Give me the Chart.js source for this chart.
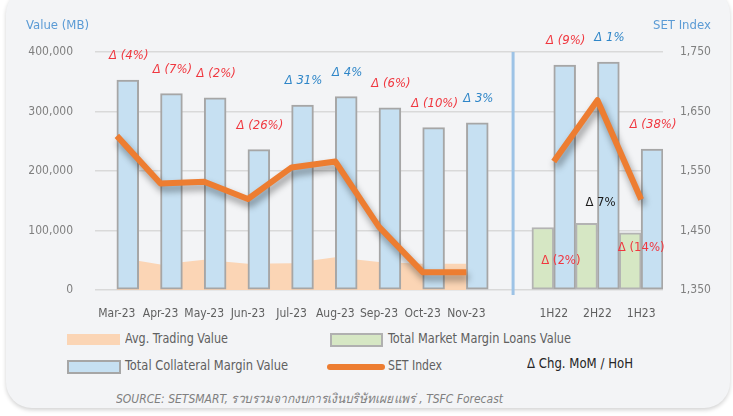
<!DOCTYPE html>
<html>
<head>
<meta charset="utf-8">
<script src="https://cdn.jsdelivr.net/npm/chart.js@4.4.0/dist/chart.umd.min.js"></script>
<style>
  html, body { margin: 0; padding: 0; background: #ffffff; }
  body { width: 733px; height: 416px; position: relative; overflow: hidden; }
  #panel {
    position: absolute; left: 6px; top: -12px; width: 724px; height: 420px;
    background: #f3f4f6; border-radius: 26px;
    box-shadow: 0 2px 4px rgba(0, 0, 0, 0.18);
  }
  #myChart { position: absolute; left: 0; top: 0; }
  .txt { position: absolute; white-space: nowrap; line-height: 1; transform-origin: left center; }
  .axtitle { font-family: 'DejaVu Sans Condensed', 'DejaVu Sans', sans-serif; font-size: 13px; color: #5b9bd5; }
  .leg { font-family: 'DejaVu Sans Condensed', 'DejaVu Sans', sans-serif; font-size: 14px; color: #606060; }
  .sw { position: absolute; box-sizing: border-box; }
</style>
</head>
<body>
<div id="panel"></div>
<canvas id="myChart" width="733" height="330"></canvas>

<div class="txt axtitle" style="left:26px; top:18px;">Value (MB)</div>
<div class="txt axtitle" style="left:653px; top:18px;">SET Index</div>

<div class="sw" style="left:67px; top:334px; width:53px; height:11px; background:#fbd5b5;"></div>
<div class="txt leg" data-w="103" style="left:125px; top:331px;">Avg. Trading Value</div>
<div class="sw" style="left:330px; top:333px; width:53px; height:14px; background:#d6e7c4; border:2px solid #b0b0b0;"></div>
<div class="txt leg" data-w="183" style="left:388px; top:331px;">Total Market Margin Loans Value</div>

<div class="sw" style="left:67px; top:360px; width:54px; height:14px; background:#c6e0f2; border:2px solid #a6a6a6;"></div>
<div class="txt leg" data-w="163" style="left:125px; top:358px;">Total Collateral Margin Value</div>
<div class="sw" style="left:327px; top:364px; width:58px; height:6px; background:#ed7d31; border-radius:3px;"></div>
<div class="txt leg" data-w="54" style="left:388px; top:358px;">SET Index</div>
<div class="txt leg" data-w="106" style="left:527px; top:356px; color:#262626;">&Delta; Chg. MoM / HoH</div>

<div class="txt leg" data-w="387" style="left:116px; top:392px; font-size:13px; font-style:italic; color:#7f7f7f;">SOURCE: SETSMART, รวบรวมจากงบการเงินบริษัทเผยแพร่ , TSFC Forecast</div>

<script>
'use strict';

// categories (index 9 is the blank gap between monthly and half-year data)
let periods = ['Mar-23', 'Apr-23', 'May-23', 'Jun-23', 'Jul-23', 'Aug-23', 'Sep-23', 'Oct-23', 'Nov-23', '', '1H22', '2H22', '1H23'];

// values in MB
let avgTradingValue = [55000, 43000, 51000, 44000, 45000, 55000, 47000, 44000, 44000, null, null, null, null];
let marginLoansValue = [null, null, null, null, null, null, null, null, null, null, 105000, 112000, 96000];
let collateralValue = [353000, 330000, 323000, 236000, 311000, 325000, 306000, 273000, 281000, null, 378000, 383000, 237000];

// SET index level
let setIndex = [1609, 1529, 1532, 1503, 1556, 1566, 1456, 1380, 1380, null, 1566, 1669, 1502];

// % change MoM / HoH
let collateralChg = [-4, -7, -2, -26, 31, 4, -6, -10, 3, null, -9, 1, -38];
let loansChg = [null, null, null, null, null, null, null, null, null, null, -2, 7, -14];

// axis ticks
let leftTicks = [0, 100000, 200000, 300000, 400000];
let rightTicks = [1350, 1450, 1550, 1650, 1750];

const tickFont = { family: "'DejaVu Sans Condensed', 'DejaVu Sans', sans-serif", size: 12 };
const lblFont = "'DejaVu Sans Condensed', 'DejaVu Sans', sans-serif";

// squeeze legend texts to the narrow widths of the original font
document.querySelectorAll('[data-w]').forEach(el => {
  let w = el.getBoundingClientRect().width;
  el.style.transform = 'scaleX(' + (Number(el.dataset.w) / w) + ')';
});

function fmtChg(v) {
  return v < 0 ? '\u0394 (' + Math.abs(v) + '%)' : '\u0394 ' + v + '%';
}

// blue separator between monthly and half-year part
const separator = {
  id: 'separator',
  beforeDatasetsDraw(chart) {
    let ctx = chart.ctx;
    let x = chart.scales.x.getPixelForValue(9) + 3;
    ctx.save();
    ctx.strokeStyle = '#9dc3e6';
    ctx.lineWidth = 3;
    ctx.beginPath();
    ctx.moveTo(x, chart.chartArea.top);
    ctx.lineTo(x, chart.chartArea.bottom + 5);
    ctx.stroke();
    ctx.restore();
  }
};

// drop shadow under the SET line
const lineShadow = {
  id: 'lineShadow',
  beforeDatasetDraw(chart, args) {
    if (args.index !== 3) return;
    let ctx = chart.ctx;
    ctx.save();
    ctx.shadowColor = 'rgba(0,0,0,0.4)';
    ctx.shadowBlur = 7;
    ctx.shadowOffsetX = 2;
    ctx.shadowOffsetY = 5;
  },
  afterDatasetDraw(chart, args) {
    if (args.index !== 3) return;
    chart.ctx.restore();
  }
};

// delta labels
const deltaLabels = {
  id: 'deltaLabels',
  afterDatasetsDraw(chart) {
    let ctx = chart.ctx;
    ctx.save();
    ctx.textAlign = 'center';
    ctx.textBaseline = 'middle';

    let blue = chart.getDatasetMeta(2).data;
    ctx.font = 'italic 13px ' + lblFont;
    for (let i = 0; i < collateralChg.length; i++) {
      if (collateralChg[i] === null) continue;
      ctx.fillStyle = collateralChg[i] < 0 ? '#f0373f' : '#2f86c8';
      ctx.fillText(fmtChg(collateralChg[i]), blue[i].x + 1, blue[i].y - 24);
    }

    let green = chart.getDatasetMeta(1).data;
    let offs = { 10: [18, 33], 11: [14, -21], 12: [11, 15] };
    ctx.font = '13px ' + lblFont;
    for (let i = 0; i < loansChg.length; i++) {
      if (loansChg[i] === null) continue;
      ctx.fillStyle = loansChg[i] < 0 ? '#f0373f' : '#1a1a1a';
      ctx.fillText(fmtChg(loansChg[i]), green[i].x + offs[i][0], green[i].y + offs[i][1]);
    }
    ctx.restore();
  }
};

let ctx = document.getElementById('myChart');

let config = {
  type: 'bar',
  data: {
    labels: periods,
    datasets: [
      {
        type: 'line',
        label: 'Avg. Trading Value',
        data: avgTradingValue,
        yAxisID: 'y',
        fill: 'origin',
        backgroundColor: '#fbd5b5',
        borderWidth: 0,
        pointRadius: 0,
        tension: 0,
        order: 3
      },
      {
        label: 'Total Market Margin Loans Value',
        data: marginLoansValue,
        yAxisID: 'y',
        backgroundColor: '#d6e7c4',
        borderColor: '#b3b3b3',
        borderWidth: 2,
        borderSkipped: false,
        barPercentage: 1,
        categoryPercentage: 1,
        order: 2
      },
      {
        label: 'Total Collateral Margin Value',
        data: collateralValue,
        yAxisID: 'y',
        backgroundColor: '#c6e0f2',
        borderColor: '#a6a6a6',
        borderWidth: 2,
        borderSkipped: false,
        barPercentage: 1,
        categoryPercentage: 1,
        order: 2
      },
      {
        type: 'line',
        label: 'SET Index',
        data: setIndex,
        yAxisID: 'y1',
        borderColor: '#ed7d31',
        borderWidth: 6,
        borderJoinStyle: 'round',
        pointRadius: 0,
        tension: 0,
        fill: false,
        order: 0
      }
    ]
  },
  options: {
    responsive: false,
    animation: false,
    layout: { padding: { top: 52, left: 0, right: 0, bottom: 0 } },
    plugins: {
      legend: { display: false },
      tooltip: { enabled: false }
    },
    scales: {
      x: {
        grid: { display: false, drawTicks: false },
        border: { display: false },
        ticks: {
          autoSkip: false,
          maxRotation: 0,
          padding: 17,
          color: '#606060',
          font: { family: lblFont, size: 12 }
        },
        afterFit(s) { s.height = 40; }
      },
      y: {
        position: 'left',
        min: 0,
        max: 400000,
        border: { display: false },
        grid: { color: '#d9d9d9', lineWidth: 1.5, drawTicks: false },
        afterBuildTicks(s) { s.ticks = leftTicks.map(v => ({ value: v })); },
        ticks: {
          padding: 22,
          color: '#7f7f7f',
          font: tickFont,
          callback: v => v.toLocaleString('en-US')
        },
        afterFit(s) { s.width = 95; }
      },
      y1: {
        position: 'right',
        min: 1350,
        max: 1750,
        border: { display: false },
        grid: { drawOnChartArea: false, drawTicks: false },
        afterBuildTicks(s) { s.ticks = rightTicks.map(v => ({ value: v })); },
        ticks: {
          padding: 17,
          color: '#7f7f7f',
          font: tickFont,
          callback: v => v.toLocaleString('en-US')
        },
        afterFit(s) { s.width = 70; }
      }
    }
  },
  plugins: [separator, lineShadow, deltaLabels]
};

new Chart(ctx, config);
</script>
</body>
</html>
